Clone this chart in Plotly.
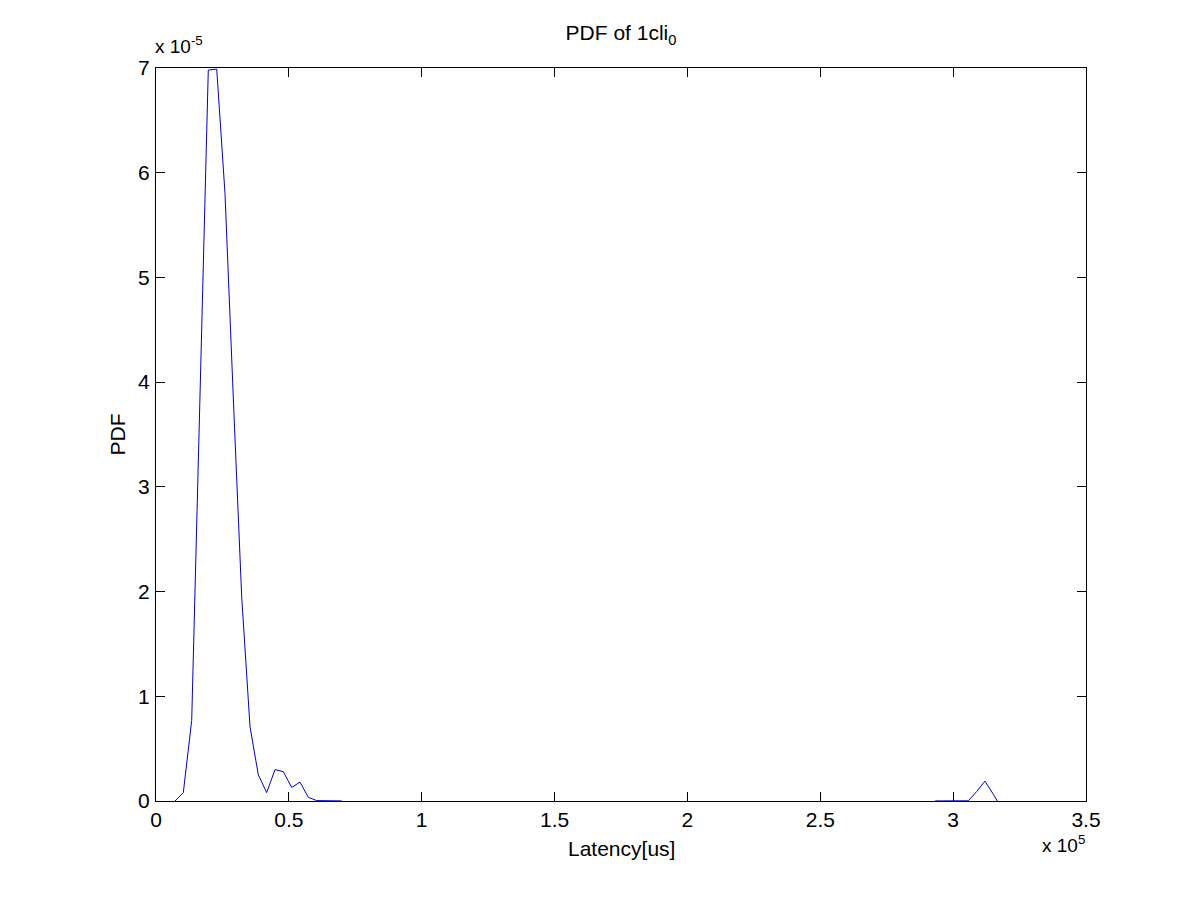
import plotly.graph_objects as go

# Latency bin centers (us) and PDF values (x1e-5), main cluster
lat_main = [7150, 10280, 13440, 16560, 19680, 22850, 25970, 29090, 32250, 35380,
            38500, 41660, 44790, 47910, 51070, 54200, 57320, 60480, 63600, 66730, 69890]
pdf_main = [0.0, 0.08, 0.77, 3.9, 6.98, 6.99, 5.8, 3.85, 1.95, 0.71,
            0.25, 0.08, 0.30, 0.28, 0.13, 0.18, 0.035, 0.004, 0.002, 0.001, 0.001]

# second cluster near 3.1e5
lat_tail = [293190, 296300, 299450, 302560, 305700, 308830, 311960, 315100, 316640]
pdf_tail = [0.001, 0.001, 0.001, 0.001, 0.002, 0.09, 0.19, 0.065, 0.0]

x_ticks = [0, 50000, 100000, 150000, 200000, 250000, 300000, 350000]
x_ticktext = ["0", "0.5", "1", "1.5", "2", "2.5", "3", "3.5"]
y_ticks = [0, 1e-5, 2e-5, 3e-5, 4e-5, 5e-5, 6e-5, 7e-5]
y_ticktext = ["0", "1", "2", "3", "4", "5", "6", "7"]

xs = lat_main + [None] + lat_tail
ys = [v * 1e-5 for v in pdf_main] + [None] + [v * 1e-5 for v in pdf_tail]

fig = go.Figure()
fig.add_trace(go.Scatter(x=xs, y=ys, mode="lines",
                         line=dict(color="#0000cc", width=1), connectgaps=False,
                         showlegend=False, cliponaxis=True))

FAM = "Liberation Sans, Arial, sans-serif"
font = dict(family=FAM, size=21, color="black")
small = dict(family=FAM, size=19, color="black")
axis_common = dict(showline=True, linecolor="black", linewidth=1, mirror="ticks",
                   ticks="inside", ticklen=9, tickcolor="black", showgrid=False,
                   zeroline=False, tickfont=font)

fig.update_layout(
    width=1200, height=900,
    paper_bgcolor="white", plot_bgcolor="white",
    margin=dict(l=148, r=122, t=60, b=107),
    font=font,
    title=dict(text="PDF of 1cli<sub>0</sub>", x=(621 - 8) / 1200, xanchor="center",
               y=1 - (33 - 8) / 900, yanchor="middle", font=font),
    xaxis=dict(range=[0, 350000], tickvals=x_ticks, ticktext=x_ticktext,
               ticklabelstandoff=0, **axis_common),
    yaxis=dict(range=[0, 7e-5], tickvals=y_ticks, ticktext=y_ticktext,
               ticklabelstandoff=1, **axis_common),
)

fig.add_annotation(text="Latency[us]", xref="paper", yref="paper", x=0.5, y=0,
                   xanchor="center", yanchor="middle", yshift=-47,
                   showarrow=False, font=font)
fig.add_annotation(text="PDF", xref="paper", yref="paper", x=0, y=0.5,
                   xanchor="center", yanchor="middle", xshift=-39, textangle=-90,
                   showarrow=False, font=font)
fig.add_annotation(text="x 10<sup>-5</sup>", xref="paper", yref="paper",
                   x=0, y=1, xanchor="left", yanchor="bottom", yshift=9, xshift=-3,
                   showarrow=False, font=small)
fig.add_annotation(text="x 10<sup>5</sup>", xref="paper", yref="paper",
                   x=1, y=0, xanchor="right", yanchor="top", yshift=-29, xshift=1,
                   showarrow=False, font=small)

fig.write_html("out.html")
